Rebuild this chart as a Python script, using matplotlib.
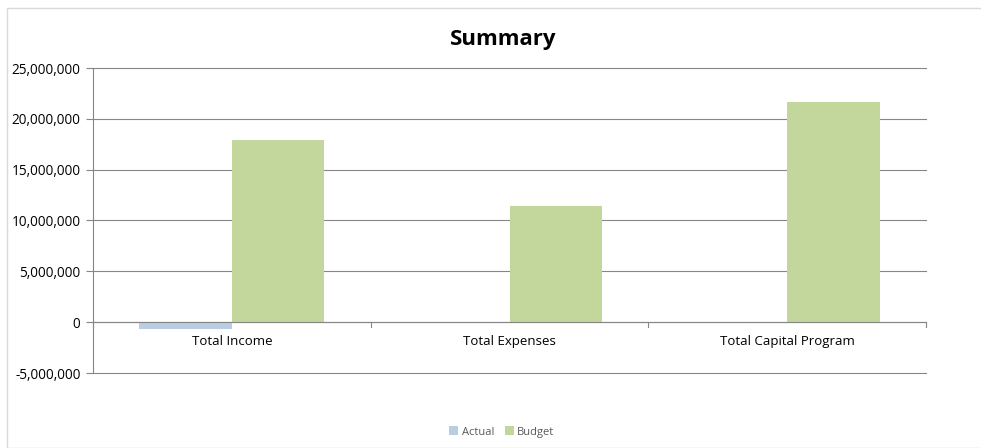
import matplotlib.pyplot as plt
from matplotlib.patches import Rectangle
from matplotlib.ticker import FuncFormatter

categories = ["Total Income", "Total Expenses", "Total Capital Program"]
actual = [-700000, 0, 0]
budget = [17900000, 11400000, 21700000]

plt.rcParams['font.family'] = ['Open Sans', 'DejaVu Sans']

fig = plt.figure(figsize=(9.81, 4.48), dpi=100)
ax = fig.add_axes([93 / 981, 1 - 373 / 448, (926 - 93) / 981, (373 - 68) / 448])

# chart frame
fig.patches.append(Rectangle((7 / 981, 0), 1, 1 - 8 / 448, transform=fig.transFigure,
                             fill=False, edgecolor='#d9d9d9', lw=1))

w = 1 / 3
x = list(range(len(categories)))
ax.bar([i - w / 2 for i in x], actual, width=w, color='#b9cde5', label='Actual')
ax.bar([i + w / 2 for i in x], budget, width=w, color='#c3d69b', label='Budget')

ax.set_xlim(-0.5, 2.5)
ax.set_ylim(-5000000, 25000000)
ax.set_yticks(range(-5000000, 25000001, 5000000))
ax.yaxis.set_major_formatter(FuncFormatter(lambda v, p: f"{int(v):,}"))
ax.grid(axis='y', color='#868686', lw=0.8)
for gl in ax.get_ygridlines():
    gl.set_clip_on(False)
ax.set_axisbelow(True)

for s in ['top', 'right', 'bottom']:
    ax.spines[s].set_visible(False)
ax.spines['left'].set_color('#868686')
ax.tick_params(axis='y', length=5, color='#868686', labelsize=9.8, pad=4)

# category labels sit under the zero line
ax.set_xticks([])
ax.axhline(0, color='#868686', lw=0.8)
for b in [-0.5, 0.5, 1.5, 2.5]:
    ax.plot([b, b], [0, -450000], color='#868686', lw=0.8, clip_on=False)
for i, c in enumerate(categories):
    ax.text(i, -1900000, c, ha='center', va='center', fontsize=9.5)

fig.text(503 / 981, 1 - 40 / 448, "Summary", fontsize=16, fontweight='bold',
         ha='center', va='center')
fig.legend(loc='center', bbox_to_anchor=(502 / 981, 1 - 432 / 448), ncol=2, frameon=False,
           fontsize=8, handlelength=0.8, handleheight=0.8, handletextpad=0.3,
           columnspacing=1.0, labelcolor='#595959')

fig.savefig("out.png", dpi=100)
